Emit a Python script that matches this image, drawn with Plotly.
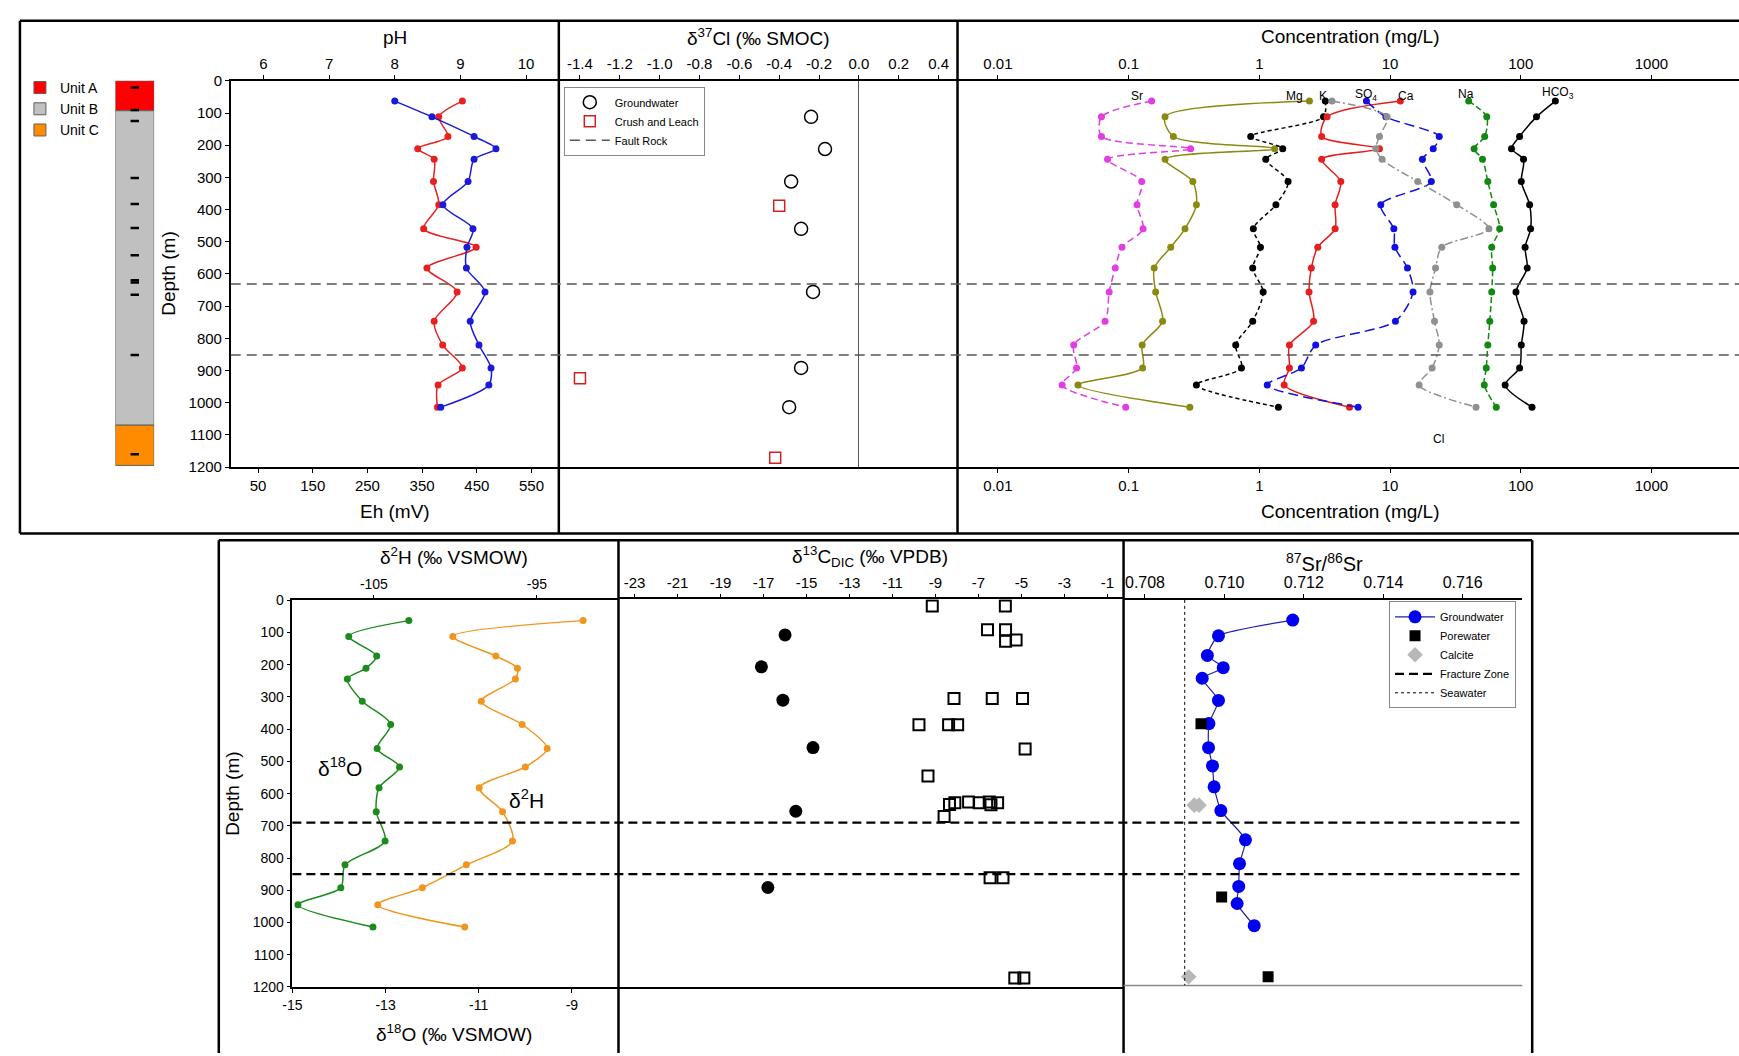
import math
import plotly.graph_objects as go

# ---------------- DATA ----------------
depth = [63, 112, 173, 211, 244, 313, 385, 460, 517, 582, 656, 747, 821, 892, 945, 1014]

ph = [9.03, 8.67, 8.81, 8.35, 8.60, 8.59, 8.67, 8.44, 9.24, 8.49, 8.95, 8.60, 8.73, 9.03, 8.66, 8.65]
eh = [300, 368, 445, 485, 445, 434, 388, 443, 432, 431, 465, 438, 454, 476, 472, 384]

units = ["Unit A", "Unit B", "Unit C"]
unit_top = [0, 93, 1070]
unit_bottom = [93, 1070, 1195]
sample_depths = [21, 91, 125, 302, 383, 457, 542, 620, 627, 665, 852, 1160]

cl37_gw_depth = [112, 212, 313, 460, 656, 892, 1014]
cl37_gw = [-0.24, -0.17, -0.34, -0.29, -0.23, -0.29, -0.35]
cl37_cl_depth = [388, 924, 1171]
cl37_cl = [-0.40, -1.40, -0.42]

conc_sr = [0.150, 0.062, 0.062, 0.298, 0.069, 0.126, 0.116, 0.129, 0.089, 0.079, 0.071, 0.066, 0.038, 0.040, 0.031, 0.095]
conc_mg = [2.42, 0.19, 0.22, 1.31, 0.19, 0.31, 0.33, 0.27, 0.21, 0.157, 0.161, 0.182, 0.127, 0.128, 0.041, 0.294]
conc_k = [3.2, 3.1, 0.86, 1.51, 1.12, 1.66, 1.34, 0.90, 1.02, 0.89, 1.07, 0.89, 0.66, 0.73, 0.33, 1.40]
conc_ca = [12.0, 3.3, 3.0, 8.3, 3.0, 4.2, 3.8, 3.8, 2.8, 2.5, 2.4, 2.6, 1.7, 1.7, 1.55, 4.9]
conc_so4 = [6.6, 9.3, 23.8, 21.4, 17.7, 20.7, 8.5, 10.7, 10.9, 13.6, 15.0, 11.0, 2.7, 2.1, 1.15, 5.7]
conc_cl = [3.6, 9.5, 8.3, 7.8, 8.7, 16.3, 32.4, 57.1, 24.9, 22.3, 20.2, 21.9, 23.8, 21.0, 16.7, 45.5]
conc_na = [40, 55, 53, 44, 51, 56, 62, 69, 60, 61, 60, 58, 56, 54.5, 52.6, 65]
conc_hco3 = [184, 132, 98, 85, 105, 101, 117, 119, 108, 112, 92, 106, 101, 98, 76, 122]
conc_ticks = [0.01, 0.1, 1, 10, 100, 1000]
conc_ticktext = ["0.01", "0.1", "1", "10", "100", "1000"]

d18o = [-12.50, -13.79, -13.19, -13.42, -13.82, -13.50, -12.89, -13.18, -12.70, -13.14, -13.20, -13.01, -13.87, -13.96, -14.88, -13.27]
d2h = [-92.17, -100.16, -97.52, -96.20, -96.32, -98.41, -95.91, -94.37, -95.71, -98.54, -97.11, -96.50, -99.33, -102.03, -104.76, -99.43]

dic_gw_depth = [110, 209, 312, 459, 656, 892]
dic_gw = [-16.0, -17.1, -16.1, -14.7, -15.5, -16.8]
dic_pw_depth = [21, 21, 94, 94, 130, 126, 307, 307, 307, 388, 388, 388, 463, 547,
                635, 630, 627, 630, 627, 636, 630, 672, 862, 862, 1172, 1172]
dic_pw = [-9.15, -5.75, -6.58, -5.74, -5.74, -5.25, -8.14, -6.36, -4.95, -9.77, -8.39, -7.97, -4.83, -9.35,
          -8.35, -8.10, -7.46, -6.97, -6.50, -6.42, -6.11, -8.60, -6.46, -5.86, -5.31, -4.89]

sr_gw = [0.71172, 0.70985, 0.70957, 0.70997, 0.70944, 0.70985, 0.70961, 0.70960, 0.70970, 0.70974,
         0.70991, 0.71053, 0.71038, 0.71036, 0.71032, 0.71075]
sr_pw_depth = [386, 925, 1173]
sr_pw = [0.70941, 0.70993, 0.71110]
sr_calc_depth = [639, 639, 1173]
sr_calc = [0.70924, 0.70936, 0.70910]
seawater_sr = 0.7090

fault_top = [631, 852]
fault_bottom = [690, 850]

ph_ticks = [6, 7, 8, 9, 10]
eh_ticks = [50, 150, 250, 350, 450, 550]
cl37_ticks = [-1.4, -1.2, -1.0, -0.8, -0.6, -0.4, -0.2, 0.0, 0.2, 0.4]
cl37_ticktext = ["-1.4", "-1.2", "-1.0", "-0.8", "-0.6", "-0.4", "-0.2", "0.0", "0.2", "0.4"]
d18o_ticks = [-15, -13, -11, -9]
d18o_ticktext = ["-15", "-13", "-11", "-9"]
d2h_ticks = [-105, -95]
d2h_ticktext = ["-105", "-95"]
dic_ticks = [-23, -21, -19, -17, -15, -13, -11, -9, -7, -5, -3, -1]
dic_ticktext = ["-23", "-21", "-19", "-17", "-15", "-13", "-11", "-9", "-7", "-5", "-3", "-1"]
sr_ticks = [0.708, 0.710, 0.712, 0.714, 0.716]
sr_ticktext = ["0.708", "0.710", "0.712", "0.714", "0.716"]
depth_ticks = list(range(0, 1201, 100))

# ---------------- LAYOUT HELPERS ----------------
W, H = 1739, 1056
FONT = "Arial, 'Liberation Sans', sans-serif"


def px(x):
    return x / W


def py(y):
    return 1 - y / H


def xdom(a, b):
    return [px(a), px(b)]


def ydom(top, bottom):
    return [py(bottom), py(top)]


fig = go.Figure()

# ---------------- lithology column ----------------
unit_colors = ["#ff0000", "#c0c0c0", "#ff8c00"]
for name, t, b, c in zip(units, unit_top, unit_bottom, unit_colors):
    fig.add_trace(go.Bar(x=["col"], y=[b - t], base=[t], width=[1],
                         marker=dict(color=c, line=dict(color="#606060", width=1)),
                         name=name, xaxis="x", yaxis="y", legend="legend", showlegend=True))
fig.add_trace(go.Scatter(x=["col"] * len(sample_depths), y=sample_depths, mode="markers",
                         marker=dict(symbol="line-ew", size=6, line=dict(width=2.5, color="black")),
                         xaxis="x", yaxis="y", showlegend=False))

# ---------------- pH / Eh ----------------
fig.add_trace(go.Scatter(x=ph, y=depth, mode="lines+markers", xaxis="x2", yaxis="y2",
                         line=dict(color="#e8201f", width=1.5, shape="spline", smoothing=0.8),
                         marker=dict(size=7, color="#e8201f"), showlegend=False))
fig.add_trace(go.Scatter(x=eh, y=depth, mode="lines+markers", xaxis="x3", yaxis="y2",
                         line=dict(color="#1a1ad8", width=1.5, shape="spline", smoothing=0.8),
                         marker=dict(size=7, color="#1a1ad8"), showlegend=False))

# ---------------- d37Cl ----------------
fig.add_trace(go.Scatter(x=cl37_gw, y=cl37_gw_depth, mode="markers", xaxis="x4", yaxis="y3",
                         marker=dict(symbol="circle-open", size=13, color="black", line=dict(width=1.5)),
                         name="Groundwater", legend="legend2"))
fig.add_trace(go.Scatter(x=cl37_cl, y=cl37_cl_depth, mode="markers", xaxis="x4", yaxis="y3",
                         marker=dict(symbol="square-open", size=11, color="#d02020", line=dict(width=1.5)),
                         name="Crush and Leach", legend="legend2"))

# ---------------- Concentrations ----------------
conc_series = [
    ("Sr", conc_sr, "#e23de2", "7px,4px", "x5"),
    ("Mg", conc_mg, "#8a8a10", "solid", "x5"),
    ("K", conc_k, "black", "4px,3px", "x5"),
    ("Ca", conc_ca, "#e61e1e", "solid", "x5"),
    ("SO4", conc_so4, "#1010e0", "10px,5px", "x5"),
    ("Cl", conc_cl, "#909090", "8px,3px,2px,3px", "x5"),
    ("Na", conc_na, "#118811", "6px,3px", "x5"),
    ("HCO3", conc_hco3, "black", "solid", "x6"),
]
for name, vals, col, dash, xa in conc_series:
    fig.add_trace(go.Scatter(x=vals, y=depth, mode="lines+markers", xaxis=xa, yaxis="y4",
                             line=dict(color=col, width=1.5, dash=dash, shape="spline", smoothing=0.8),
                             marker=dict(size=7, color=col), name=name, showlegend=False))

# ---------------- d18O / d2H ----------------
fig.add_trace(go.Scatter(x=d18o, y=depth, mode="lines+markers", xaxis="x7", yaxis="y5",
                         line=dict(color="#1d8a1d", width=1.5, shape="spline", smoothing=0.8),
                         marker=dict(size=7, color="#1d8a1d"), showlegend=False))
fig.add_trace(go.Scatter(x=d2h, y=depth, mode="lines+markers", xaxis="x8", yaxis="y5",
                         line=dict(color="#f0961e", width=1.5, shape="spline", smoothing=0.8),
                         marker=dict(size=7, color="#f0961e"), showlegend=False))

# ---------------- d13C ----------------
fig.add_trace(go.Scatter(x=dic_gw, y=dic_gw_depth, mode="markers", xaxis="x9", yaxis="y6",
                         marker=dict(symbol="circle", size=13, color="black"), showlegend=False))
fig.add_trace(go.Scatter(x=dic_pw, y=dic_pw_depth, mode="markers", xaxis="x9", yaxis="y6",
                         marker=dict(symbol="square-open", size=11, color="black", line=dict(width=2)),
                         showlegend=False))

# ---------------- Sr isotopes ----------------
fig.add_trace(go.Scatter(x=sr_gw, y=depth, mode="lines+markers", xaxis="x10", yaxis="y7",
                         line=dict(color="#2020b0", width=1.2, shape="spline", smoothing=0.5),
                         marker=dict(size=13, color="#0000ee"), name="Groundwater", legend="legend3"))
fig.add_trace(go.Scatter(x=sr_pw, y=sr_pw_depth, mode="markers", xaxis="x10", yaxis="y7",
                         marker=dict(symbol="square", size=11, color="black"), name="Porewater", legend="legend3"))
fig.add_trace(go.Scatter(x=sr_calc, y=sr_calc_depth, mode="markers", xaxis="x10", yaxis="y7",
                         marker=dict(symbol="diamond", size=12, color="#b8b8b8"), name="Calcite", legend="legend3"))

# ---------------- shapes ----------------
shapes = []


def pline(x0, y0, x1, y1, width=2, color="black"):
    shapes.append(dict(type="line", xref="paper", yref="paper", x0=px(x0), y0=py(y0), x1=px(x1), y1=py(y1),
                       line=dict(color=color, width=width), layer="above"))


# top frame
pline(10, 12, W + 5, 12, 2.5)
pline(10, 533, W + 5, 533, 2.5)
pline(10, 12, 10, 533, 2.5)
pline(552, 12, 552, 533, 2.5)
pline(953, 12, 953, 533, 2.5)
# bottom frame
pline(210, 540, 1531, 540, 2.5)
pline(210, 540, 210, H + 5, 2.5)
pline(1531, 540, 1531, H + 5, 2.5)
pline(612, 540, 612, H + 5, 2.5)
pline(1120, 540, 1120, H + 5, 2.5)
pline(1120, 992.4, 1521, 992.4, 1.5, "#888888")

for i, d in enumerate(fault_top):
    s = dict(type="line", xref="paper", yref="y2", x0=px(222), x1=1.0, y0=d, y1=d,
             line=dict(color="#555555", width=1.5, dash="10px,6px"), layer="above")
    if i == 0:
        s.update(showlegend=True, name="Fault Rock", legend="legend2")
    shapes.append(s)
for i, d in enumerate(fault_bottom):
    s = dict(type="line", xref="paper", yref="y5", x0=px(284), x1=px(1521), y0=d, y1=d,
             line=dict(color="black", width=2.2, dash="9px,5px"), layer="above")
    if i == 0:
        s.update(showlegend=True, name="Fracture Zone", legend="legend3")
    shapes.append(s)
shapes.append(dict(type="line", xref="x10", yref="y7", x0=seawater_sr, x1=seawater_sr, y0=0, y1=1200,
                   line=dict(color="black", width=1, dash="dot"), showlegend=True, name="Seawater",
                   legend="legend3"))

# ---------------- annotations ----------------
annotations = []


def ann(text, x, y, size=19, angle=0, xanchor="center"):
    annotations.append(dict(text=text, x=px(x), y=py(y), xref="paper", yref="paper", showarrow=False,
                            font=dict(size=size, color="black", family=FONT), textangle=angle,
                            xanchor=xanchor, yanchor="middle"))


ann("pH", 387, 29)
ann("Eh (mV)", 387, 511)
ann("Depth (m)", 160, 269, angle=-90)
ann("δ<sup>37</sup>Cl (‰ SMOC)", 753, 28)
ann("Concentration (mg/L)", 1348, 28)
ann("Concentration (mg/L)", 1348, 511)
ann("δ<sup>2</sup>H (‰ VSMOW)", 447, 556)
ann("δ<sup>18</sup>O (‰ VSMOW)", 447, 1041)
ann("Depth (m)", 223, 798, angle=-90)
ann("δ<sup>13</sup>C<sub>DIC</sub> (‰ VPDB)", 865, 556)
ann("<sup>87</sup>Sr/<sup>86</sup>Sr", 1322, 563, size=20)
ann("δ<sup>18</sup>O", 332, 770, size=21)
ann("δ<sup>2</sup>H", 519, 803, size=21)

conc_labels = [("Sr", 0.116, 48), ("Mg", 1.87, 48), ("K", 3.07, 48), ("SO<sub>4</sub>", 6.6, 44),
               ("Ca", 13.2, 46), ("Na", 37.9, 42), ("HCO<sub>3</sub>", 193, 38), ("Cl", 23.5, 1114)]
for t, v, d in conc_labels:
    annotations.append(dict(text=t, x=math.log10(v), y=d, xref="x5", yref="y4", showarrow=False,
                            font=dict(size=12, color="black", family=FONT)))

# ---------------- axes ----------------
ax_common = dict(showgrid=False, zeroline=False, ticks="outside", ticklen=4, tickwidth=1.2,
                 tickcolor="black", linecolor="black", linewidth=1.5, showline=True,
                 tickfont=dict(size=15, color="black", family=FONT))
top_y = ydom(73, 465.5)
bot_y = ydom(601, 994)
f14 = dict(size=14, color="black", family=FONT)

layout = dict(
    width=W, height=H, autosize=False,
    margin=dict(l=0, r=0, t=0, b=0, pad=0),
    paper_bgcolor="white", plot_bgcolor="rgba(0,0,0,0)",
    font=dict(family=FONT, color="black"),
    barmode="overlay",
    shapes=shapes, annotations=annotations,
    # lithology column
    xaxis=dict(domain=xdom(106, 145), range=[-0.5, 0.5], visible=False, anchor="y"),
    yaxis=dict(domain=top_y, range=[1200, 0], visible=False, anchor="x"),
    # pH / Eh
    xaxis2=dict(ax_common, domain=xdom(222, 552), range=[5.5, 10.5], side="top", anchor="y2",
                tickvals=ph_ticks),
    xaxis3=dict(ax_common, range=[0, 600], side="bottom", anchor="y2", overlaying="x2",
                tickvals=eh_ticks),
    yaxis2=dict(ax_common, domain=top_y, range=[1200, 0], anchor="x2", tickvals=depth_ticks),
    # d37Cl
    xaxis4=dict(ax_common, domain=xdom(552, 953), range=[-1.506, 0.495], side="top", anchor="y3",
                tickvals=cl37_ticks, ticktext=cl37_ticktext, mirror=True,
                zeroline=True, zerolinecolor="#555555", zerolinewidth=1),
    yaxis3=dict(domain=top_y, range=[1200, 0], anchor="x4", visible=False),
    # concentration
    xaxis5=dict(ax_common, domain=xdom(953, W), type="log", range=[-2.309, 3.67], side="top",
                anchor="y4", tickvals=conc_ticks, ticktext=conc_ticktext),
    xaxis6=dict(ax_common, type="log", range=[-2.309, 3.67], side="bottom", anchor="y4",
                overlaying="x5", tickvals=conc_ticks, ticktext=conc_ticktext),
    yaxis4=dict(domain=top_y, range=[1200, 0], anchor="x5", visible=False),
    # d18O / d2H
    xaxis7=dict(ax_common, domain=xdom(284, 612), range=[-15, -8], side="bottom", anchor="y5",
                tickvals=d18o_ticks, ticktext=d18o_ticktext, tickfont=f14),
    xaxis8=dict(ax_common, range=[-110, -90], side="top", anchor="y5", overlaying="x7",
                tickvals=d2h_ticks, ticktext=d2h_ticktext, tickfont=f14),
    yaxis5=dict(ax_common, domain=bot_y, range=[1200, 0], anchor="x7", tickvals=depth_ticks,
                tickfont=f14),
    # d13C
    xaxis9=dict(ax_common, domain=xdom(612, 1120), range=[-23.75, -0.25], side="top", anchor="y6",
                tickvals=dic_ticks, ticktext=dic_ticktext, mirror=True),
    yaxis6=dict(domain=ydom(600, 994), range=[1200, 0], anchor="x9", visible=False),
    # Sr
    xaxis10=dict(ax_common, domain=xdom(1120, 1521), range=[0.70746, 0.71750], side="top", anchor="y7",
                 tickvals=sr_ticks, ticktext=sr_ticktext, tickfont=dict(size=16, color="black", family=FONT)),
    yaxis7=dict(domain=ydom(600.5, 992.4), range=[1200, 0], anchor="x10", visible=False),
    # legends
    legend=dict(x=px(10), y=py(64), xanchor="left", yanchor="top", bgcolor="rgba(0,0,0,0)",
                font=dict(size=14, family=FONT), itemwidth=30, tracegroupgap=0),
    legend2=dict(x=px(557), y=py(79), xanchor="left", yanchor="top", bgcolor="white",
                 bordercolor="#888888", borderwidth=1, font=dict(size=11, family=FONT), itemwidth=40),
    legend3=dict(x=px(1387), y=py(602), xanchor="left", yanchor="top", bgcolor="white",
                 bordercolor="#888888", borderwidth=1, font=dict(size=11, family=FONT), itemwidth=40),
)
fig.update_layout(**layout)
fig.write_html("out.html", config={"displayModeBar": False},
               post_script="document.body.style.margin='0px';")
